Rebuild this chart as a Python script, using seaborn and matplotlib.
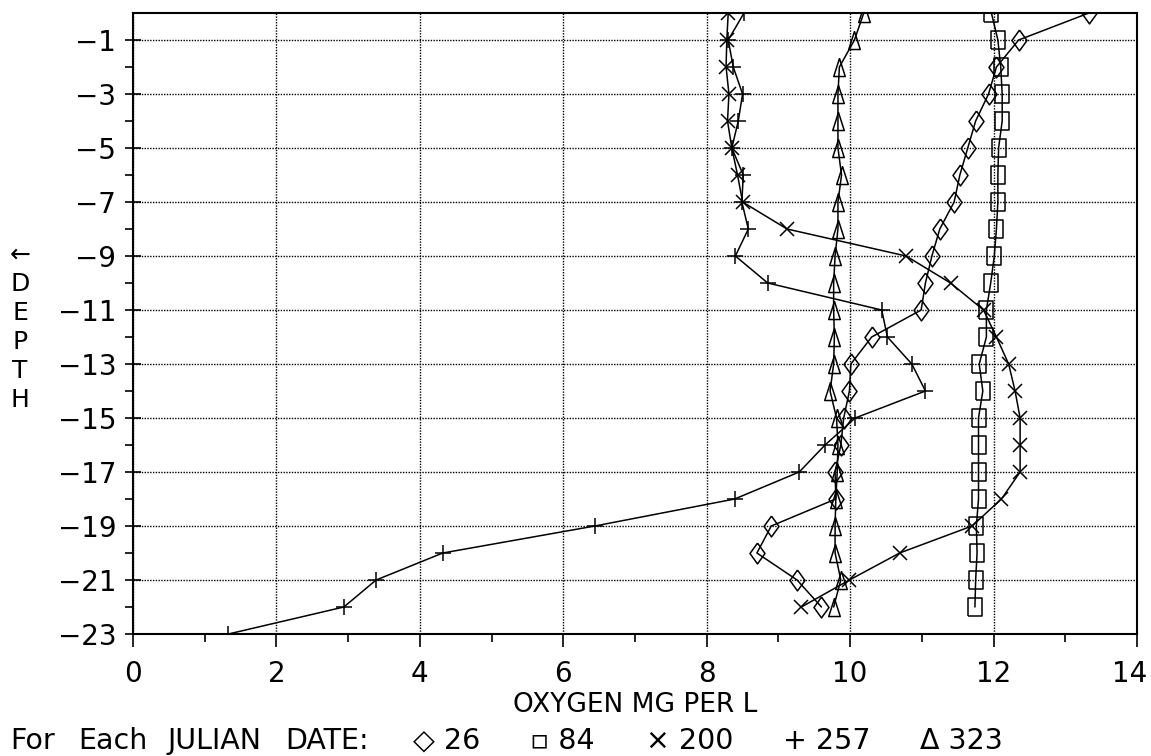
import numpy as np
import pandas as pd
import matplotlib
matplotlib.use("Agg")
import matplotlib.pyplot as plt
import matplotlib.transforms as mtransforms
import seaborn as sns

# depth in m (0 at surface), one reading per metre
depth = list(range(0, -23, -1))
depth_257 = list(range(0, -24, -1))

ox_26 = [13.33, 12.35, 12.04, 11.93, 11.75, 11.64, 11.53, 11.45, 11.25, 11.14, 11.05, 10.99,
         10.30, 10.01, 9.99, 9.91, 9.87, 9.79, 9.80, 8.90, 8.70, 9.26, 9.60]
ox_84 = [11.97, 12.06, 12.10, 12.12, 12.12, 12.07, 12.06, 12.06, 12.04, 12.01, 11.96, 11.90,
         11.90, 11.80, 11.85, 11.79, 11.79, 11.79, 11.79, 11.76, 11.77, 11.75, 11.74]
ox_200 = [8.30, 8.28, 8.27, 8.31, 8.29, 8.35, 8.43, 8.50, 9.12, 10.78, 11.40, 11.86,
          12.04, 12.21, 12.30, 12.37, 12.37, 12.37, 12.11, 11.70, 10.69, 9.99, 9.32]
ox_257 = [8.52, 8.30, 8.37, 8.50, 8.44, 8.35, 8.51, 8.49, 8.58, 8.40, 8.85, 10.44,
          10.52, 10.86, 11.05, 10.07, 9.65, 9.29, 8.39, 6.44, 4.32, 3.39, 2.94, 1.33]
ox_323 = [10.19, 10.06, 9.85, 9.83, 9.83, 9.83, 9.88, 9.83, 9.83, 9.79, 9.77, 9.77,
          9.78, 9.77, 9.72, 9.81, 9.83, 9.82, 9.80, 9.79, 9.79, 9.87, 9.77]

x_ticks = list(range(0, 15, 2))
y_ticks = list(range(-1, -24, -2))

sns.set_style("ticks")
plt.rcParams['font.family'] = ['DejaVu Sans']
plt.rcParams['text.color'] = 'black'
plt.rcParams['xtick.color'] = 'black'
plt.rcParams['ytick.color'] = 'black'

# tall open markers like the old plotter symbols
rect = [(-0.38, -0.5), (0.38, -0.5), (0.38, 0.5), (-0.38, 0.5), (-0.38, -0.5)]
tri = [(0, 0.5), (-0.32, -0.5), (0.32, -0.5), (0, 0.5)]
diam = [(0, 0.5), (0.36, 0), (0, -0.5), (-0.36, 0), (0, 0.5)]

series = [
    (ox_26, depth, diam, 15),
    (ox_84, depth, rect, 13),
    (ox_200, depth, 'x', 10),
    (ox_257, depth_257, '+', 11),
    (ox_323, depth, tri, 13),
]

fig = plt.figure(figsize=(11.51, 7.56), dpi=100)
ax = fig.add_axes([133 / 1151, 1 - 634 / 756, (1137 - 133) / 1151, (634 - 13) / 756])

for vals, dep, mk, size in series:
    sns.lineplot(x=vals, y=dep, orient='y', sort=False, estimator=None, ax=ax,
                 color='black', linewidth=1.1, marker=mk, markersize=size,
                 markerfacecolor='none', markeredgecolor='black', markeredgewidth=1.1)

ax.set_xlim(0, 14)
ax.set_ylim(-23, 0)
ax.set_xticks(x_ticks)
ax.set_xticks(range(1, 14, 2), minor=True)
ax.set_yticks(y_ticks)
ax.set_yticks(range(-2, -23, -2), minor=True)
ax.tick_params(axis='both', which='major', labelsize=20, color='black', width=1.2)
ax.tick_params(axis='x', which='major', direction='out', length=9, pad=10)
ax.tick_params(axis='x', which='minor', direction='out', length=6, width=1.2)
ax.tick_params(axis='y', which='major', direction='inout', length=12, pad=6)
ax.tick_params(axis='y', which='minor', direction='out', length=6, width=1.2)
ax.grid(True, which='major', color='black', linestyle=(0, (1, 1)), linewidth=1.0)
for s in ax.spines.values():
    s.set_linewidth(1.5)
    s.set_color('black')

# keep the "14" inside the page
last = ax.get_xticklabels()[-1]
last.set_transform(last.get_transform() + mtransforms.ScaledTranslation(-7 / 100, 0, fig.dpi_scale_trans))

ax.set_xlabel('')
ax.set_ylabel('')
fig.text(635 / 1151, 1 - 705 / 756, 'OXYGEN MG PER L', ha='center', va='center', fontsize=19)

# stacked axis title on the left
for i, ch in enumerate(['\u2190', 'D', 'E', 'P', 'T', 'H']):
    fig.text(20 / 1151, 1 - (255 + i * 29) / 756, ch, ha='center', va='center', fontsize=18)

# legend line under the plot
legend_words = [(10, 'For'), (78, 'Each'), (168, 'JULIAN'), (285, 'DATE:')]
legend_items = [
    (413, '\u25c7 26'),
    (530, '\u25ab 84'),
    (646, '\u00d7 200'),
    (783, '+ 257'),
    (920, '\u0394 323'),
]
for xp, txt in legend_words + legend_items:
    fig.text(xp / 1151, 1 - 741 / 756, txt, ha='left', va='center', fontsize=20.5)

fig.savefig('out.png', dpi=100)
